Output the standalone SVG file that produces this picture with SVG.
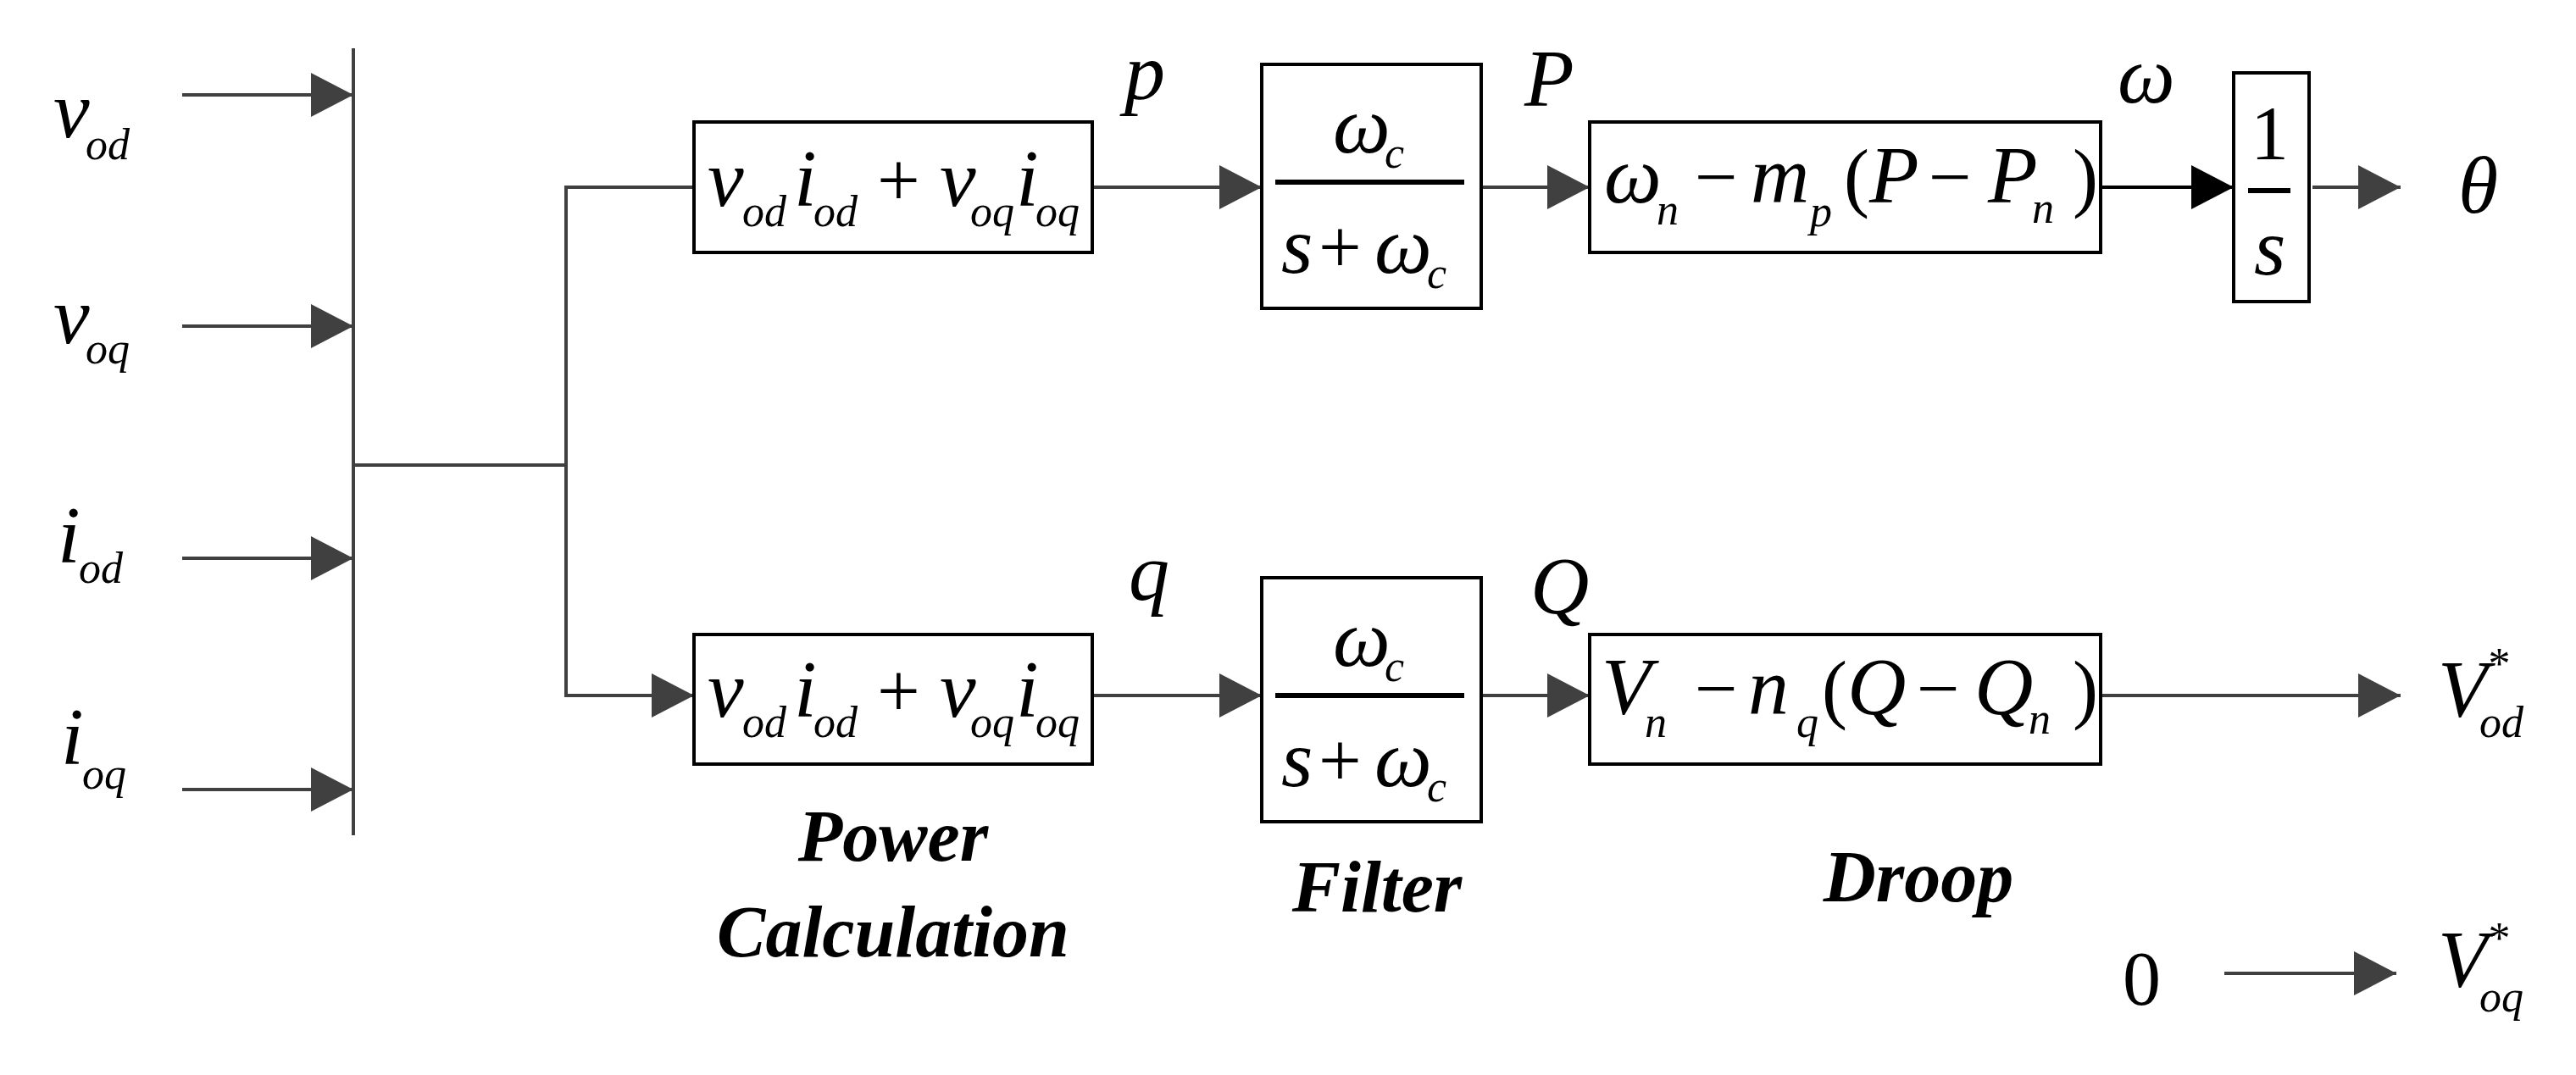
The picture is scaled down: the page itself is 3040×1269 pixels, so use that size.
<svg xmlns="http://www.w3.org/2000/svg" width="3040" height="1269" viewBox="0 0 3040 1269">
<style>
.m{font-family:"Liberation Serif","Times New Roman",serif;font-style:italic;font-size:96px;fill:#000}
.s{font-family:"Liberation Serif","Times New Roman",serif;font-style:italic;font-size:52px;fill:#000}
.r{font-family:"Liberation Serif","Times New Roman",serif;font-size:90px;fill:#000}
.b{font-family:"Liberation Serif","Times New Roman",serif;font-style:italic;font-weight:bold;font-size:86px;fill:#000;text-anchor:middle}
.w{stroke:#404040;stroke-width:4;fill:none}
.box{stroke:#000;stroke-width:4;fill:#fff}
</style>
<defs>
<marker id="a" markerUnits="userSpaceOnUse" markerWidth="50" markerHeight="52" refX="50" refY="26" orient="auto"><path d="M0,0 L50,26 L0,52 z" fill="#404040"/></marker>
<marker id="k" markerUnits="userSpaceOnUse" markerWidth="50" markerHeight="52" refX="50" refY="26" orient="auto"><path d="M0,0 L50,26 L0,52 z" fill="#000"/></marker>
</defs>
<g id="connectors">
<line class="w" x1="417" y1="57" x2="417" y2="986"/>
<line class="w" x1="215" y1="112" x2="417" y2="112" marker-end="url(#a)"/>
<line class="w" x1="215" y1="385" x2="417" y2="385" marker-end="url(#a)"/>
<line class="w" x1="215" y1="659" x2="417" y2="659" marker-end="url(#a)"/>
<line class="w" x1="215" y1="932" x2="417" y2="932" marker-end="url(#a)"/>
<polyline class="w" points="417,549 668,549"/>
<polyline class="w" points="819,221 668,221 668,821 819,821" marker-start="url(#a)" marker-end="url(#a)"/>
<line class="w" x1="1289" y1="221" x2="1489" y2="221" marker-end="url(#a)"/>
<line class="w" x1="1289" y1="821" x2="1489" y2="821" marker-end="url(#a)"/>
<line class="w" x1="1748" y1="221" x2="1876" y2="221" marker-end="url(#a)"/>
<line class="w" x1="1748" y1="821" x2="1876" y2="821" marker-end="url(#a)"/>
<line x1="2479" y1="221" x2="2636" y2="221" stroke="#000" stroke-width="4" marker-end="url(#k)"/>
<line class="w" x1="2729" y1="221" x2="2833" y2="221" marker-end="url(#a)"/>
<line class="w" x1="2479" y1="821" x2="2833" y2="821" marker-end="url(#a)"/>
<line class="w" x1="2625" y1="1149" x2="2828" y2="1149" marker-end="url(#a)"/>
</g>
<g id="inputs">
<text class="m" x="63" y="162">v</text><text class="s" x="101" y="188">od</text>
<text class="m" x="63" y="405">v</text><text class="s" x="101" y="429">oq</text>
<text class="m" x="68" y="664">i</text><text class="s" x="93" y="688">od</text>
<text class="m" x="72" y="902">i</text><text class="s" x="97" y="931">oq</text>
</g>
<g id="power-p">
<rect class="box" x="819" y="144" width="470" height="154"/>
<text class="m" x="835" y="243">v</text><text class="s" x="876" y="267">od</text>
<text class="m" x="937" y="243">i</text><text class="s" x="960" y="267">od</text>
<text class="r" x="1035" y="243">+</text>
<text class="m" x="1109" y="243">v</text><text class="s" x="1145" y="267">oq</text>
<text class="m" x="1199" y="243">i</text><text class="s" x="1222" y="267">oq</text>
<text class="m" x="1327" y="117">p</text>
</g>
<g id="power-q">
<rect class="box" x="819" y="749" width="470" height="153"/>
<text class="m" x="835" y="846">v</text><text class="s" x="876" y="870">od</text>
<text class="m" x="937" y="846">i</text><text class="s" x="960" y="870">od</text>
<text class="r" x="1035" y="846">+</text>
<text class="m" x="1109" y="846">v</text><text class="s" x="1145" y="870">oq</text>
<text class="m" x="1199" y="846">i</text><text class="s" x="1222" y="870">oq</text>
<text class="m" x="1332" y="708">q</text>
</g>
<g id="filter-p">
<rect class="box" x="1489" y="76" width="259" height="288"/>
<text class="m" x="1573" y="180">ω</text><text class="s" x="1634" y="198">c</text>
<line x1="1505" y1="215" x2="1728" y2="215" stroke="#000" stroke-width="6"/>
<text class="m" x="1512" y="322">s</text><text class="r" x="1556" y="322">+</text><text class="m" x="1622" y="322">ω</text><text class="s" x="1684" y="340">c</text>
<text class="m" x="1799" y="125">P</text>
</g>
<g id="filter-q">
<rect class="box" x="1489" y="682" width="259" height="288"/>
<text class="m" x="1573" y="786">ω</text><text class="s" x="1634" y="804">c</text>
<line x1="1505" y1="821" x2="1728" y2="821" stroke="#000" stroke-width="6"/>
<text class="m" x="1512" y="928">s</text><text class="r" x="1556" y="928">+</text><text class="m" x="1622" y="928">ω</text><text class="s" x="1684" y="946">c</text>
<text class="m" x="1806" y="724">Q</text>
</g>
<g id="droop-p">
<rect class="box" x="1876" y="144" width="603" height="154"/>
<text class="m" x="1893" y="239">ω</text><text class="s" x="1955" y="265">n</text>
<text class="r" x="2000" y="239">−</text>
<text class="m" x="2066" y="239">m</text><text class="s" x="2136" y="267">p</text>
<text class="r" x="2176" y="239">(</text>
<text class="m" x="2206" y="239">P</text>
<text class="r" x="2276" y="239">−</text>
<text class="m" x="2346" y="239">P</text><text class="s" x="2398" y="263">n</text>
<text class="r" x="2446" y="239">)</text>
<text class="m" x="2499" y="121">ω</text>
</g>
<g id="integrator">
<rect class="box" x="2636" y="86" width="89" height="270"/>
<text class="r" x="2656" y="188">1</text>
<line x1="2653" y1="225" x2="2703" y2="225" stroke="#000" stroke-width="6"/>
<text class="m" x="2660" y="324">s</text>
<text class="m" x="2901" y="251">θ</text>
</g>
<g id="droop-q">
<rect class="box" x="1876" y="749" width="603" height="153"/>
<text class="m" x="1890" y="843">V</text><text class="s" x="1941" y="870">n</text>
<text class="r" x="2000" y="843">−</text>
<text class="m" x="2063" y="843">n</text><text class="s" x="2120" y="870">q</text>
<text class="r" x="2150" y="843">(</text>
<text class="m" x="2180" y="843">Q</text>
<text class="r" x="2262" y="843">−</text>
<text class="m" x="2330" y="843">Q</text><text class="s" x="2394" y="866">n</text>
<text class="r" x="2446" y="843">)</text>
</g>
<g id="outputs">
<text class="m" x="2877" y="846">V</text><text class="s" x="2934" y="801">*</text><text class="s" x="2926" y="870">od</text>
<text class="r" x="2505" y="1186">0</text>
<text class="m" x="2877" y="1165">V</text><text class="s" x="2934" y="1125">*</text><text class="s" x="2926" y="1194">oq</text>
</g>
<g id="labels">
<text class="b" x="1054" y="1016">Power</text>
<text class="b" x="1054" y="1129">Calculation</text>
<text class="b" x="1625" y="1076">Filter</text>
<text class="b" x="2264" y="1064">Droop</text>
</g>
</svg>
